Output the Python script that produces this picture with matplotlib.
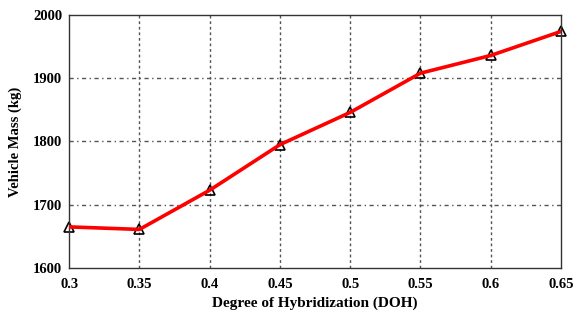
import matplotlib
matplotlib.use("Agg")
import matplotlib.pyplot as plt

# ── data ─────────────────────────────────────────────────────────────────────
doh = [0.30, 0.35, 0.40, 0.45, 0.50, 0.55, 0.60, 0.65]
mass = [1665, 1661, 1723, 1795, 1846, 1908, 1936, 1974]

x_ticks = [0.3, 0.35, 0.4, 0.45, 0.5, 0.55, 0.6, 0.65]
x_tick_labels = ["0.3", "0.35", "0.4", "0.45", "0.5", "0.55", "0.6", "0.65"]
y_ticks = [1600, 1700, 1800, 1900, 2000]

plt.rcParams["font.family"] = ["Liberation Serif", "DejaVu Serif"]
plt.rcParams["font.weight"] = "bold"

fig = plt.figure(figsize=(5.76, 3.12), dpi=100)
ax = fig.add_axes([0.12, 0.141, 0.854, 0.811])

ax.plot(doh, mass, color="red", lw=2.6, zorder=3)
ax.plot(doh, mass, ls="none", marker="^", ms=7, mfc="none", mec="black",
        mew=1.2, zorder=2, clip_on=False)

ax.set_xlim(0.3, 0.65)
ax.set_ylim(1600, 2000)
ax.set_xticks(x_ticks)
ax.set_xticklabels(x_tick_labels)
ax.set_yticks(y_ticks)
ax.tick_params(axis="x", length=0, labelsize=10.5, pad=7)
ax.tick_params(axis="y", length=0, labelsize=10.5, pad=5)

# grid: vertical short dashes, horizontal dash-dot
for xv in x_ticks[1:-1]:
    ax.axvline(xv, color="#555555", lw=1.0, ls=(0, (2, 2)), zorder=1)
for yv in y_ticks[1:-1]:
    ax.axhline(yv, color="#555555", lw=1.0, ls=(0, (3, 2.5, 1, 2.5)), zorder=1)

for s in ax.spines.values():
    s.set_color("#333333")
    s.set_linewidth(1.0)

ax.set_xlabel("Degree of Hybridization (DOH)", fontsize=11, fontweight="bold", labelpad=4)
ax.set_ylabel("Vehicle Mass (kg)", fontsize=10.5, fontweight="bold", labelpad=8)

fig.savefig("out.png", dpi=100)
